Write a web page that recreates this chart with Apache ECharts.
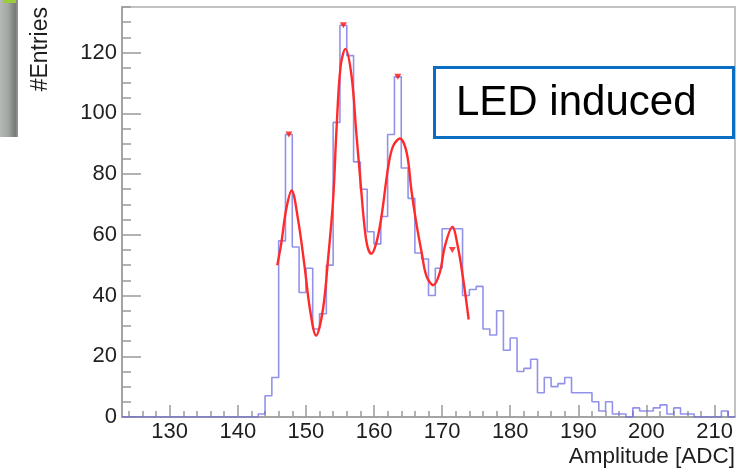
<!DOCTYPE html>
<html>
<head>
<meta charset="utf-8">
<script src="https://cdn.jsdelivr.net/npm/echarts@6/dist/echarts.min.js"></script>
<style>
  html, body { margin: 0; padding: 0; background: #fff; }
  #chart { width: 743px; height: 468px; }
</style>
</head>
<body>
<div id="chart"></div>
<script>
// Amplitude spectrum: 1-ADC bins from 123 to 213
const binStart = 123;
const binWidth = 1;
const counts = [
  0, 0, 0, 0, 0, 0, 0, 0, 0, 0,          // 123-132
  0, 0, 0, 0, 0, 0, 0, 0, 0, 0,          // 133-142
  1, 7, 13, 58, 93, 56, 41, 49, 29, 34,  // 143-152
  50, 97, 129, 119, 84, 75, 61, 57, 66, 93, // 153-162
  112, 82, 72, 54, 52, 40, 49, 62, 62, 62,  // 163-172
  40, 42, 43, 29, 27, 35, 22, 26, 15, 16,   // 173-182
  19, 8, 13, 10, 11, 13, 8, 8, 8, 5,        // 183-192
  2, 5, 1, 1, 0, 3, 2, 2, 3, 4,             // 193-202
  1, 3, 1, 1, 0, 0, 0, 0, 2, 0              // 203-212
];

// Multi-peak fit curve
const fitX = [145.8, 146.4, 147.1, 147.9, 148.85, 149.8, 150.6, 151.5, 152.5, 153.25,
              154.0, 154.5, 155.1, 155.8, 156.7, 157.4, 158.15, 158.5, 159.0, 159.6,
              160.35, 161.1, 162.1, 162.8, 163.8, 164.8, 165.5, 166.2, 167.0, 167.7,
              168.7, 169.65, 170.4, 171.5, 172.3, 173.1, 173.9];
const fitY = [50, 57.4, 68.3, 74.6, 65, 49.7, 35.4, 26.8, 35.4, 51.9,
              71.7, 95, 115.6, 121.2, 112.3, 93.6, 73.9, 65, 56.5, 53.7,
              57.4, 66.1, 82.6, 89.2, 91.7, 87, 74.5, 64.0, 54.1, 46.4,
              43.4, 47.5, 56.2, 62.6, 56.2, 45.3, 32.1];

// Found peak positions
const peakX = [147.5, 155.5, 163.5, 171.5];
const peakY = [93, 129, 112, 55];

// Axis ticks
const xMajorTicks = [130, 140, 150, 160, 170, 180, 190, 200, 210];
const xMinorTicks = [124, 126, 128, 132, 134, 136, 138, 142, 144, 146, 148, 152, 154, 156, 158,
                     162, 164, 166, 168, 172, 174, 176, 178, 182, 184, 186, 188, 192, 194, 196, 198,
                     202, 204, 206, 208, 212];
const yMajorTicks = [0, 20, 40, 60, 80, 100, 120];
const yMinorTicks = [5, 10, 15, 25, 30, 35, 45, 50, 55, 65, 70, 75, 85, 90, 95,
                     105, 110, 115, 125, 130, 135];

const xMin = binStart;
const xMax = binStart + counts.length * binWidth;
const yMin = 0;
const yMax = 135;

const FONT = "'Liberation Sans', Arial, Helvetica, sans-serif";
const AXIS_GRAY = '#9a9a9a';

const histData = counts.map((c, i) => [binStart + i * binWidth, c]);
histData.push([xMax, counts[counts.length - 1]]);
const fitData = fitX.map((x, i) => [x, fitY[i]]);
const peakData = peakX.map((x, i) => [x, peakY[i]]);

const chart = echarts.init(document.getElementById('chart'), null, { renderer: 'canvas' });

chart.setOption({
  animation: false,
  backgroundColor: '#ffffff',
  grid: {
    left: 122, right: 8, top: 7, bottom: 51,
    show: true, borderColor: '#b0b0b0', borderWidth: 1.5,
    outerBoundsMode: 'none'
  },
  xAxis: [
    {
      type: 'value', position: 'bottom', min: xMin, max: xMax,
      axisLine: { show: true, lineStyle: { color: AXIS_GRAY, width: 1.5 } },
      axisTick: { show: true, inside: true, length: 12, customValues: xMajorTicks,
                  lineStyle: { color: AXIS_GRAY, width: 1.5 } },
      axisLabel: { show: true, customValues: xMajorTicks, margin: 4,
                   fontFamily: FONT, fontSize: 22, color: '#1e1e1e' },
      splitLine: { show: false }
    },
    {
      type: 'value', position: 'bottom', min: xMin, max: xMax,
      axisLine: { show: false },
      axisTick: { show: true, inside: true, length: 6, customValues: xMinorTicks,
                  lineStyle: { color: AXIS_GRAY, width: 1.5 } },
      axisLabel: { show: false },
      splitLine: { show: false }
    }
  ],
  yAxis: [
    {
      type: 'value', position: 'left', min: yMin, max: yMax,
      axisLine: { show: true, lineStyle: { color: AXIS_GRAY, width: 1.5 } },
      axisTick: { show: true, inside: true, length: 19, customValues: yMajorTicks,
                  lineStyle: { color: AXIS_GRAY, width: 1.5 } },
      axisLabel: { show: true, customValues: yMajorTicks, margin: 5,
                   fontFamily: FONT, fontSize: 22, color: '#1e1e1e' },
      splitLine: { show: false }
    },
    {
      type: 'value', position: 'left', min: yMin, max: yMax,
      axisLine: { show: false },
      axisTick: { show: true, inside: true, length: 9, customValues: yMinorTicks,
                  lineStyle: { color: AXIS_GRAY, width: 1.5 } },
      axisLabel: { show: false },
      splitLine: { show: false }
    }
  ],
  series: [
    {
      name: 'counts', type: 'line', step: 'end',
      xAxisIndex: 0, yAxisIndex: 0,
      data: histData, symbol: 'none',
      lineStyle: { color: 'rgba(100,100,225,0.7)', width: 1.6 },
      z: 2
    },
    {
      name: 'fit', type: 'line', smooth: 0.35,
      xAxisIndex: 0, yAxisIndex: 0,
      data: fitData, symbol: 'none',
      lineStyle: { color: '#ff2a2a', width: 2.4 },
      z: 3
    },
    {
      name: 'peaks', type: 'scatter',
      xAxisIndex: 0, yAxisIndex: 0,
      data: peakData, symbol: 'triangle', symbolSize: [7, 6], symbolRotate: 180,
      itemStyle: { color: '#ff1010' },
      z: 4
    }
  ],
  graphic: [
    // strip at the left edge
    {
      type: 'rect', left: 0, top: 0, z: 1,
      shape: { x: 0, y: 0, width: 18, height: 137 },
      style: {
        fill: new echarts.graphic.LinearGradient(0, 0, 1, 0, [
          { offset: 0, color: '#b6bab6' },
          { offset: 0.45, color: '#a2a6a2' },
          { offset: 0.85, color: '#767a76' },
          { offset: 1, color: '#9a9e9a' }
        ])
      }
    },
    {
      type: 'rect', left: 4, top: 0, z: 2,
      shape: { x: 0, y: 0, width: 12, height: 3 },
      style: { fill: '#9ccc3c' }
    },
    // y-axis title
    {
      type: 'text', x: 41, y: 7, rotation: Math.PI / 2, z: 10,
      style: {
        text: '#Entries', fontFamily: FONT, fontSize: 23, fill: '#1e1e1e',
        textAlign: 'right', textVerticalAlign: 'middle'
      }
    },
    // x-axis title
    {
      type: 'text', x: 735, y: 456.5, z: 10,
      style: {
        text: 'Amplitude [ADC]', fontFamily: FONT, fontSize: 22.5, fill: '#1e1e1e',
        textAlign: 'right', textVerticalAlign: 'middle'
      }
    },
    // annotation box
    {
      type: 'rect', z: 20,
      shape: { x: 434.5, y: 67.5, width: 299, height: 70 },
      style: { fill: '#ffffff', stroke: '#0a6fc2', lineWidth: 3 }
    },
    {
      type: 'text', x: 456, y: 103, z: 21,
      style: {
        text: 'LED induced', fontFamily: FONT, fontSize: 42, fill: '#000000',
        textAlign: 'left', textVerticalAlign: 'middle'
      }
    }
  ]
});
</script>
</body>
</html>
